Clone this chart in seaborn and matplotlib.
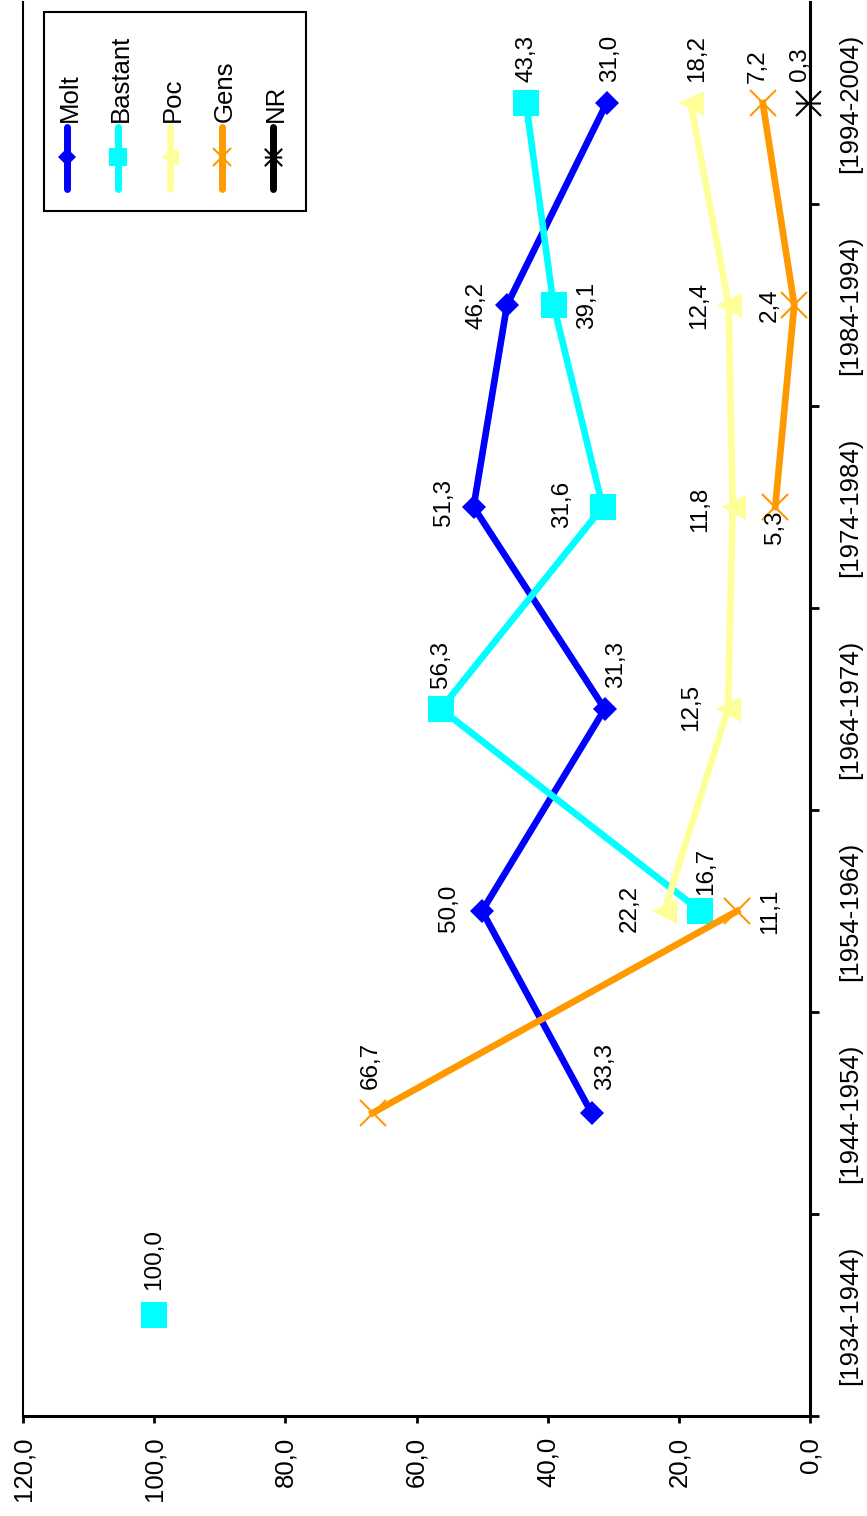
import numpy as np
import pandas as pd
import matplotlib
matplotlib.use("Agg")
import matplotlib.pyplot as plt
from matplotlib.path import Path
from matplotlib.patches import Rectangle
from matplotlib.lines import Line2D
import seaborn as sns

plt.rcParams['font.family'] = ['Liberation Sans', 'DejaVu Sans']

# --- data (original chart is rotated 90 degrees) ---
categories = ["[1934-1944)", "[1944-1954)", "[1954-1964)", "[1964-1974)",
              "[1974-1984)", "[1984-1994)", "[1994-2004)"]
series_names = ["Molt", "Bastant", "Poc", "Gens", "NR"]
molt = [np.nan, 33.3, 50.0, 31.3, 51.3, 46.2, 31.0]
bastant = [100.0, np.nan, 16.7, 56.3, 31.6, 39.1, 43.3]
poc = [np.nan, np.nan, 22.2, 12.5, 11.8, 12.4, 18.2]
gens = [np.nan, 66.7, 11.1, np.nan, 5.3, 2.4, 7.2]
nr = [np.nan, np.nan, np.nan, np.nan, np.nan, np.nan, 0.3]
value_ticks = [0, 20, 40, 60, 80, 100, 120]

# label offsets in pixels (dx right, dy down) relative to each point
molt_off = [None, (13, -47), (-33, -3), (11, -45), (-30, -5), (-31, 0), (3, -45)]
bastant_off = [(0, -55), None, (6, -40), (0, -45), (-41, -3), (33, 0), (0, -45)]
poc_off = [None, None, (-35, -3), (-37, -2), (-32, 2), (-30, 0), (6, -45)]
gens_off = [None, (-2, -48), (33, 0), None, (0, 20), (-25, 0), (-5, -37)]
nr_off = [None, None, None, None, None, None, (-8, -39)]

W, H = 867, 1516
FS = 18.5
FS_LAB = 17.5

star = Path([(-1, -1), (1, 1), (-1, 1), (1, -1), (-1, 0), (1, 0)],
            [Path.MOVETO, Path.LINETO, Path.MOVETO, Path.LINETO,
             Path.MOVETO, Path.LINETO])

styles = {
    "Molt": dict(color="#0000FF", marker="D", ms=12.7, mew=0),
    "Bastant": dict(color="#00FFFF", marker="s", ms=18.7, mew=0),
    "Poc": dict(color="#FFFF99", marker="<", ms=18, mew=0),
    "Gens": dict(color="#FF9900", marker="x", ms=18.5, mew=1.5),
    "NR": dict(color="#000000", marker=star, ms=18, mew=1.5),
}


def fmt(v):
    return f"{v:.1f}".replace(".", ",")


def long_frame(name, values):
    rows = []
    seg = 0
    for i, v in enumerate(values):
        if np.isnan(v):
            seg += 1
            continue
        rows.append({"serie": name, "pos": i, "valor": v, "seg": seg})
    return pd.DataFrame(rows)


fig = plt.figure(figsize=(W / 100, H / 100), dpi=100)
ax = fig.add_axes([23 / W, 1 - 1416 / H, (810 - 23) / W, (1416 - 2) / H])

all_vals = [molt, bastant, poc, gens, nr]
all_offs = [molt_off, bastant_off, poc_off, gens_off, nr_off]

for z, (name, vals) in enumerate(zip(series_names, all_vals)):
    st = styles[name]
    d = long_frame(name, vals)
    sns.lineplot(data=d, x="valor", y="pos", units="seg", estimator=None,
                 orient="y", color=st["color"], linewidth=4.8,
                 marker=st["marker"], markersize=st["ms"],
                 markeredgewidth=st["mew"], markeredgecolor=st["color"],
                 markerfacecolor=st["color"], ax=ax, legend=False,
                 zorder=3 + z, clip_on=False)

for vals, offs in zip(all_vals, all_offs):
    for i, (v, off) in enumerate(zip(vals, offs)):
        if np.isnan(v) or off is None:
            continue
        ax.annotate(fmt(v), xy=(v, i), xytext=(off[0], -off[1]),
                    textcoords="offset pixels", rotation=90,
                    ha="center", va="center", fontsize=FS_LAB, zorder=10)

ax.set_xlim(120, 0)
ax.set_ylim(-0.5, 6.5)
ax.set_xlabel("")
ax.set_ylabel("")

ax.set_xticks(value_ticks)
ax.set_xticklabels([fmt(v) for v in value_ticks], rotation=90, fontsize=FS)
ax.tick_params(axis="x", direction="out", length=5, width=2, pad=10)

ax.yaxis.tick_right()
ax.set_yticks(np.arange(-0.5, 6, 1))
ax.set_yticklabels([])
ax.set_yticks(range(len(categories)), minor=True)
ax.set_yticklabels(categories, minor=True, rotation=90, fontsize=FS,
                   va="center")
ax.tick_params(axis="y", which="major", direction="out", length=6.5,
               width=2, right=True, left=False)
ax.tick_params(axis="y", which="minor", length=0, pad=20.5, right=True,
               left=False)

ax.spines["top"].set_visible(False)
ax.spines["left"].set_linewidth(1.5)
ax.spines["right"].set_linewidth(2.2)
ax.spines["bottom"].set_linewidth(2.2)


# --- legend (drawn rotated by hand) ---
def fx(x):
    return x / W


def fy(y):
    return 1 - y / H


fig.add_artist(Rectangle((fx(44), fy(211)), fx(306) - fx(44), fy(12) - fy(211),
                         transform=fig.transFigure, facecolor="white",
                         edgecolor="black", linewidth=1.5, zorder=20))
leg_x = [67, 118, 170, 222, 273]
leg_ms = {"Molt": 8.7, "Bastant": 12.5, "Poc": 12.5, "Gens": 12.5, "NR": 12.5}
for x, name in zip(leg_x, series_names):
    st = styles[name]
    fig.add_artist(Line2D([fx(x), fx(x)], [fy(127), fy(189)],
                          transform=fig.transFigure, color=st["color"],
                          linewidth=5, solid_capstyle="round", zorder=21))
    fig.add_artist(Line2D([fx(x)], [fy(157)], transform=fig.transFigure,
                          linestyle="none", marker=st["marker"],
                          markersize=leg_ms[name], markeredgewidth=st["mew"],
                          color=st["color"], zorder=22))
    fig.text(fx(x + 3), fy(122), name, rotation=90, ha="center", va="bottom",
             fontsize=FS, zorder=23)

fig.savefig("out.png", dpi=100)
